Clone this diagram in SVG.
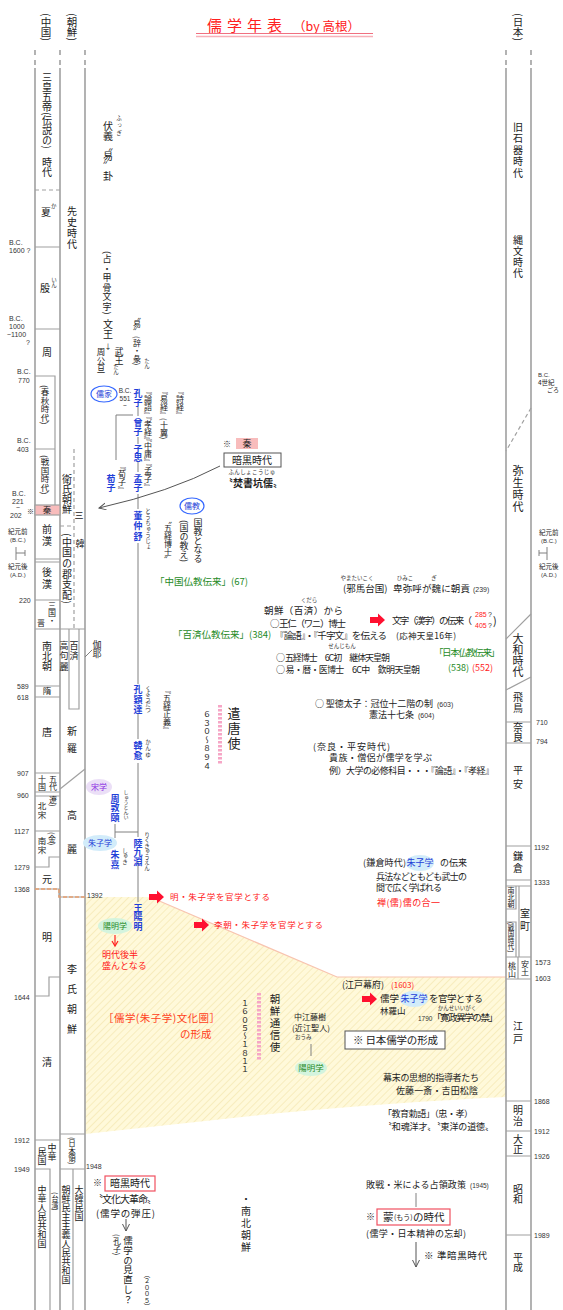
<svg xmlns="http://www.w3.org/2000/svg" width="563" height="1310" viewBox="0 0 563 1310">
<defs>
<style>
text{font-family:"Noto Sans CJK JP","Noto Sans CJK SC",sans-serif;font-size:9px;fill:#222}
.v{writing-mode:vertical-rl}
.d{font-family:"Liberation Sans",sans-serif;font-size:7px;fill:#333}
.r{font-size:5.5px;fill:#333}
.b{fill:#1f3fd8;font-weight:bold}
.red{fill:#ff2020}
.grn{fill:#1e8a1e}
.pur{fill:#8a2be2}
.c{text-anchor:middle}
.col{stroke:#a0a0a0;stroke-width:1.6;fill:none}
.ln{stroke:#a0a0a0;stroke-width:1.2;fill:none}
.sp{stroke:#808080;stroke-width:1;fill:none}
.dsh{stroke-dasharray:4 3}
.org{stroke:#e8a070;stroke-width:1.4;stroke-dasharray:4 2;fill:none}
.bar{stroke:#f6a6c6;stroke-width:4;stroke-dasharray:2.5 1.5;fill:none}
.box{fill:#fff;stroke:#555;stroke-width:1}
.rbox{fill:#fff;stroke:#f05060;stroke-width:1.2}
</style>
<pattern id="hatch" width="5" height="5" patternUnits="userSpaceOnUse" patternTransform="rotate(45)">
<rect width="5" height="5" fill="#fff9da"/>
<line x1="0" y1="0" x2="0" y2="5" stroke="#f5e8b4" stroke-width="1.5"/>
</pattern>
<marker id="ah" markerWidth="8" markerHeight="8" refX="7" refY="3.5" orient="auto" markerUnits="userSpaceOnUse">
<path d="M0,0 L7,3.5 L0,7" fill="none" stroke="#555" stroke-width="1"/>
</marker>
<path id="blk" d="M0,-3 H8 V-6.5 L15,0 L8,6.5 V3 H0 Z" fill="#ff1030"/>
</defs>

<rect width="563" height="1310" fill="#fff"/>

<g id="title">
<text x="207" y="31" style="font-size:15px;letter-spacing:5px" class="red">儒学年表</text>
<text x="293" y="31" style="font-size:12.5px" class="red">（by 高根）</text>
<line x1="196" y1="33.5" x2="373" y2="33.5" stroke="#f07080" stroke-width="1.2"/>
<line x1="196" y1="36.5" x2="373" y2="36.5" stroke="#f8b0b8" stroke-width="1.6"/>
</g>

<g id="bg-region">
<path d="M85,897 L150,897 L337,977 L506,977 L506,1097 Q400,1102 280,1113 L85,1134 Z" fill="url(#hatch)"/>
<path d="M150,897 L337,977 L506,977" fill="none" stroke="#f8c4b0" stroke-width="1.2"/>
</g>

<g id="headers">
<text class="v" x="46" y="13" style="font-size:10.5px">(中国)</text>
<text class="v" x="72" y="13" style="font-size:10.5px">(朝鮮)</text>
<text class="v" x="518" y="13" style="font-size:10.5px">(日本)</text>
</g>

<g id="columns">
<path class="col dsh" d="M35,50 V67 M60,50 V67 M85,50 V67 M506,50 V67 M531,50 V67" style="stroke-dasharray:5 5"/>
<path class="col" d="M35,68 V1310 M60,68 V1310 M85,68 V1310 M506,68 V1310 M531,68 V1310"/>
</g>

<g id="china">
<path class="ln dsh" d="M35,190 H60"/>
<path class="ln" d="M35,247 H60 M35,329 H60 M35,376 H55 V505 M35,449 H55"/>
<rect x="35" y="505" width="25" height="10" fill="#f8bcbc" stroke="#a0a0a0" stroke-width="1.2"/>
<path class="ln" d="M35,559 H60 M35,562 H60 M35,600 H60 M35,629 H85 M35,686 H60 M35,697 H60 M35,773 H60 M35,792 H60 M35,796 H60 M35,831 H60 M60,857 H49 V867 H35 M35,889 H59 V897 H85 M60,977 H49 V996 H35 M35,1140 H60 M35,1169 H50 V1310"/>
<path class="org" d="M35,889 H59 V897 H85"/>
<text class="v" x="47" y="72" style="font-size:10px">三皇五帝(伝説の)</text>
<text class="v" x="47" y="157" style="font-size:10px">時代</text>
<text class="c" x="46" y="216" style="font-size:10px">夏</text>
<text class="r" x="51" y="208">か</text>
<text class="c" x="45" y="292" style="font-size:10px">殷</text>
<text class="v r" x="54" y="277">いん</text>
<text class="c" x="47" y="356" style="font-size:10px">周</text>
<text class="v" x="45" y="385" style="font-size:8.5px">(春秋時代)</text>
<text class="v" x="45" y="455" style="font-size:8.5px">(戦国時代)</text>
<text class="c" x="47" y="513" style="font-size:8.5px">秦</text>
<text class="v" x="47" y="524" style="font-size:10px;letter-spacing:2px">前漢</text>
<text class="v" x="47" y="567" style="font-size:10px;letter-spacing:2px">後漢</text>
<text class="v" x="52" y="601" style="font-size:8px">三国・</text>
<text class="v" x="41" y="619" style="font-size:8px">晋</text>
<text class="v" x="47" y="641" style="font-size:10px">南北朝</text>
<text class="c" x="47" y="694" style="font-size:8.5px">隋</text>
<text class="c" x="47" y="736" style="font-size:10px">唐</text>
<text class="v" x="53" y="775" style="font-size:8px">五代</text>
<text class="v" x="42" y="775" style="font-size:8px">十国</text>
<text class="v" x="53" y="796" style="font-size:8px">遼)</text>
<text class="v" x="42" y="802" style="font-size:8.5px">北宋</text>
<text class="v" x="52" y="832" style="font-size:8px">(金)</text>
<text class="v" x="42" y="837" style="font-size:8.5px">南宋</text>
<text class="c" x="47" y="883" style="font-size:10px">元</text>
<text class="c" x="47" y="941" style="font-size:10px">明</text>
<text class="c" x="47" y="1066" style="font-size:10px">清</text>
<text class="v" x="52" y="1143" style="font-size:9px">中華</text>
<text class="v" x="42" y="1147" style="font-size:9px">民国</text>
<text class="v" x="42" y="1185" style="font-size:9px">中華人民共和国</text>
<text class="v" x="55" y="1192" style="font-size:7px">(台湾)</text>
</g>

<g id="korea">
<path class="ln dsh" d="M74,449 V629 M60,526 H74"/>
<path class="ln" d="M69,629 V709 H79 V629"/>
<path class="ln" d="M60,789 L85,769"/>
<path class="ln" d="M60,1134 H85 M60,1169 H85 M73,1169 V1310"/>
<path class="sp" d="M85,657 L92,650"/>
<text class="v" x="72" y="206" style="font-size:10px;letter-spacing:1px">先史時代</text>
<text class="v" x="67" y="474" style="font-size:10px">衛氏朝鮮</text>
<text class="c" x="79" y="519" style="font-size:9px">三</text>
<text class="c" x="80" y="547" style="font-size:9px">韓</text>
<text class="v" x="67" y="533" style="font-size:10px;letter-spacing:0.6px">(中国の郡支配)</text>
<text class="v" x="64" y="641" style="font-size:9px;letter-spacing:1.5px">高句麗</text>
<text class="v" x="74" y="641" style="font-size:9px;letter-spacing:1.5px">百済</text>
<text class="v" x="97" y="640" style="font-size:9px">伽耶</text>
<text class="v" x="72" y="726" style="font-size:10px;letter-spacing:7px">新羅</text>
<text class="v" x="72" y="810" style="font-size:10px;letter-spacing:24px">高麗</text>
<text class="v" x="72" y="964" style="font-size:10px;letter-spacing:10px">李氏朝鮮</text>
<text class="v" x="72" y="1137" style="font-size:7.5px">(日本領)</text>
<text class="v" x="66" y="1185" style="font-size:9px">朝鮮民主主義人民共和国</text>
<text class="v" x="79" y="1185" style="font-size:9px">大韓民国</text>
</g>

<g id="japan">
<path class="ln dsh" d="M531,408 L506,451"/>
<path class="ln" d="M531,614 L506,639 M531,677 L506,690 M506,722 H531 M506,743 H531 M506,846 H531 M506,880 H531 M506,886 H531 M506,909 H516 V886 M506,922 H516 V957 M519,886 V957 M506,957 H531 M506,979 H531 M518,957 V979 M506,1101 H531 M506,1131 H531 M506,1156 H531 M506,1235 H531"/>
<text class="v" x="518" y="122" style="font-size:10px;letter-spacing:1.5px">旧石器時代</text>
<text class="v" x="518" y="235" style="font-size:10px;letter-spacing:1px">縄文時代</text>
<text class="v" x="518" y="465" style="font-size:11px;letter-spacing:1.2px">弥生時代</text>
<text class="v" x="518" y="633" style="font-size:11px">大和時代</text>
<text class="v" x="518" y="692" style="font-size:10px;letter-spacing:1px">飛鳥</text>
<text class="v" x="518" y="722" style="font-size:10px">奈良</text>
<text class="v" x="518" y="765" style="font-size:10px;letter-spacing:4px">平安</text>
<text class="v" x="518" y="851" style="font-size:10px;letter-spacing:2px">鎌倉</text>
<text class="v" x="511" y="887" style="font-size:7px">南北朝</text>
<text class="v" x="511" y="922" style="font-size:6.5px">(戦国時代)</text>
<text class="v" x="525" y="908" style="font-size:10px;letter-spacing:3px">室町</text>
<text class="v" x="525" y="960" style="font-size:8px">安土</text>
<text class="v" x="512" y="962" style="font-size:8px">桃山</text>
<text class="v" x="518" y="1021" style="font-size:10px;letter-spacing:3px">江戸</text>
<text class="v" x="518" y="1105" style="font-size:10px;letter-spacing:1px">明治</text>
<text class="v" x="518" y="1134" style="font-size:10px">大正</text>
<text class="v" x="518" y="1184" style="font-size:10px">昭和</text>
<text class="v" x="518" y="1252" style="font-size:10px">平成</text>
</g>

<g id="dates-left">
<text class="d" x="9" y="245">B.C.</text><text class="d" x="9" y="253">1600 ?</text>
<text class="d" x="9" y="321">B.C.</text><text class="d" x="9" y="329">1000</text><text class="d" x="7" y="337">~1100</text><text class="d" x="26" y="345">?</text>
<text class="d" x="17" y="374">B.C.</text><text class="d" x="18" y="383">770</text>
<text class="d" x="17" y="443">B.C.</text><text class="d" x="17" y="452">403</text>
<text class="d" x="12" y="496">B.C.</text><text class="d" x="12" y="504">221</text><text class="d" x="16" y="510">~</text><text class="d" x="10" y="518">202</text>
<text x="27" y="514" style="font-size:7px">※</text>
<text x="8" y="534" style="font-size:6.5px">紀元前</text><text class="d" x="10" y="542" style="font-size:6px">(B.C.)</text>
<path class="sp" d="M16,547 V560 M16,553 H25 M25,550 V556"/>
<text x="8" y="569" style="font-size:6.5px">紀元後</text><text class="d" x="10" y="577" style="font-size:6px">(A.D.)</text>
<text class="d" x="19" y="603">220</text>
<text class="d" x="17" y="689">589</text>
<text class="d" x="17" y="700">618</text>
<text class="d" x="17" y="776">907</text>
<text class="d" x="17" y="798">960</text>
<text class="d" x="14" y="834">1127</text>
<text class="d" x="14" y="870">1279</text>
<text class="d" x="14" y="892">1368</text>
<text class="d" x="14" y="1000">1644</text>
<text class="d" x="14" y="1143">1912</text>
<text class="d" x="14" y="1172">1949</text>
<text class="d" x="87" y="898">1392</text>
<text class="d" x="86" y="1169">1948</text>
</g>

<g id="dates-right">
<text class="d" x="538" y="377" style="font-size:6px">B.C.</text><text x="538" y="385" style="font-size:6.5px">4世紀</text><text x="547" y="392" style="font-size:6px">ごろ</text>
<text x="539" y="535" style="font-size:6.5px">紀元前</text><text class="d" x="541" y="543" style="font-size:6px">(B.C.)</text>
<path class="sp" d="M547,547 V560 M547,553 H539 M539,550 V556"/>
<text x="539" y="569" style="font-size:6.5px">紀元後</text><text class="d" x="541" y="577" style="font-size:6px">(A.D.)</text>
<text class="d" x="536" y="725">710</text>
<text class="d" x="536" y="744">794</text>
<text class="d" x="534" y="850">1192</text>
<text class="d" x="534" y="885">1333</text>
<text class="d" x="535" y="965">1573</text>
<text class="d" x="535" y="981">1603</text>
<text class="d" x="534" y="1104">1868</text>
<text class="d" x="534" y="1134">1912</text>
<text class="d" x="534" y="1159">1926</text>
<text class="d" x="534" y="1238">1989</text>
</g>

<g id="connectors">
<path class="sp" d="M138,407 V416 M138,437 V444 M138,462 V472 M138,494 V509 M138,543 V684 M138,714 V739 M138,763 V837 M138,861 V902"/>
<path class="sp" d="M116,415 H133 M116,415 V460"/>
<path class="sp" d="M115,824 V838 M115,832 H138"/>
<path d="M220,466 Q170,492 99,508" fill="none" stroke="#555" stroke-width="1" marker-end="url(#ah)"/>
<path class="sp" d="M311,1044 V1056"/>
<path class="sp" d="M416,1193 V1207"/>
<path d="M416,1242 V1267" fill="none" stroke="#555" stroke-width="1" marker-end="url(#ah)"/>
<path d="M126,1219 V1231" fill="none" stroke="#555" stroke-width="1" marker-end="url(#ah)"/>
<path d="M115,935 V945" fill="none" stroke="#ff2020" stroke-width="1.2"/>
<path d="M112,941 L115,946 L118,941" fill="none" stroke="#ff2020" stroke-width="1.2"/>
<use href="#blk" x="149" y="897"/>
<use href="#blk" x="194" y="925"/>
<use href="#blk" x="370" y="620"/>
<use href="#blk" x="362" y="999"/>
</g>

<g id="ancient">
<text class="v" x="108" y="121" style="font-size:10px">伏義〝易〟卦</text>
<text class="v r" x="119" y="115" style="letter-spacing:2px">ふっぎ</text>
<text class="v" x="107" y="251" style="font-size:9px;letter-spacing:0.5px">(占・甲骨文字)</text>
<text class="v" x="108" y="319" style="font-size:10px">文王</text>
<text class="c" x="108" y="349" style="font-size:7px">↓</text>
<text class="v" x="119" y="347" style="font-size:9px">武王</text>
<text class="v" x="101" y="348" style="font-size:8.5px">周公旦</text>
<text class="v r" x="116" y="364">たん</text>
<text class="v" x="137" y="312" style="font-size:8px">〝易〟(辞・彖)</text>
<text class="v r" x="147" y="358">たん</text>
</g>

<g id="confucians">
<ellipse cx="104" cy="394" rx="13" ry="8" fill="#fff" stroke="#3366ff" stroke-width="1.2"/>
<text class="c" x="104" y="397" style="font-size:8px;fill:#1f3fd8">儒家</text>
<text class="d c" x="125" y="393" style="font-size:6.5px">B.C.</text>
<text class="d c" x="125" y="401" style="font-size:6.5px">551</text>
<text class="d c" x="125" y="408" style="font-size:6.5px">~</text>
<text class="v b" x="138" y="389">孔子</text>
<text class="v b" x="138" y="418">曾子</text>
<text class="v b" x="138" y="444">子思</text>
<text class="v b" x="138" y="474">孟子</text>
<text class="v b" x="138" y="511" style="letter-spacing:1.5px">董仲舒</text>
<text class="v r" x="148" y="508" style="letter-spacing:0.6px">とうちゅうじょ</text>
<text class="v" x="148" y="387" style="font-size:8px">『論語』</text>
<text class="v" x="148" y="412" style="font-size:8px">『孝経』</text>
<text class="v" x="148" y="434" style="font-size:8px">『中庸』</text>
<text class="v" x="148" y="459" style="font-size:8px">『孟子』</text>
<text class="v" x="164" y="387" style="font-size:8px">『易経』</text>
<text class="v" x="164" y="418" style="font-size:8px">(十翼)</text>
<text class="v" x="180" y="387" style="font-size:8px">『詩経』</text>
<text class="v" x="122" y="462" style="font-size:8px">『荀子』</text>
<text class="v b" x="111" y="474">荀子</text>
<ellipse cx="192" cy="506" rx="12" ry="8" fill="#fff" stroke="#3366ff" stroke-width="1.2"/>
<text class="c" x="192" y="509" style="font-size:8px;fill:#1f3fd8">儒教</text>
<text class="v" x="198" y="518">国教となる</text>
<text class="v" x="184" y="520">(国の教え)</text>
<text class="v" x="168" y="516" style="font-size:8px">〝五経博士〟</text>
<text class="grn" x="155" y="585" style="font-size:9.5px">「中国仏教伝来」(67)</text>
<text class="grn" x="173" y="638" style="font-size:9.5px">「百済仏教伝来」(384)</text>
<text class="v b" x="138" y="685" style="letter-spacing:1px">孔穎達</text>
<text class="v r" x="148" y="685">くようだつ</text>
<text class="v" x="167" y="686" style="font-size:8px">『五経正義』</text>
<text class="v b" x="138" y="741" style="letter-spacing:1px">韓愈</text>
<text class="v r" x="148" y="739" style="letter-spacing:1px">かんゆ</text>
<ellipse cx="99" cy="787" rx="13" ry="8" fill="#ebdff7"/>
<text class="c pur" x="99" y="790" style="font-size:8px">宋学</text>
<text class="v b" x="115" y="794" style="letter-spacing:0.5px">周敦頤</text>
<text class="v r" x="126" y="790" style="font-size:5px">しゅうとんい</text>
<ellipse cx="100" cy="843" rx="17" ry="8" fill="#d2ecfa"/>
<text class="c" x="100" y="846" style="font-size:8px;fill:#1f3fd8">朱子学</text>
<text class="v b" x="138" y="839">陸九淵</text>
<text class="v r" x="147" y="832">りくきゅうえん</text>
<text class="v b" x="115" y="850" style="letter-spacing:1px">朱熹</text>
<text class="v r" x="125" y="848">しゅき</text>
<text class="v b" x="138" y="903" style="letter-spacing:0.5px">王陽明</text>
<ellipse cx="115" cy="926" rx="17" ry="8" fill="#d4f4de"/>
<text class="c grn" x="115" y="929" style="font-size:8px">陽明学</text>
<text class="red" x="102" y="958">明代後半</text>
<text class="red" x="102" y="969">盛んとなる</text>
<text class="red" x="170" y="900" style="font-size:8.5px" textLength="100">明・朱子学を官学とする</text>
<text class="red" x="214" y="928" style="font-size:8.5px" textLength="109">李朝・朱子学を官学とする</text>
</g>

<g id="qin">
<text x="223" y="447" style="font-size:8px">※</text>
<rect x="236" y="438" width="22" height="11" fill="#f8bcbc"/>
<text class="c" x="247" y="447" style="font-size:9px">秦</text>
<rect class="box" x="224" y="453" width="57" height="14"/>
<text class="c" x="252" y="464" style="font-size:10px">暗黒時代</text>
<text class="r c" x="252" y="474" style="letter-spacing:0.4px">ふんしょこうじゅ</text>
<text class="c" x="253" y="487" style="font-size:10px;font-weight:bold">〝焚書坑儒〟</text>
</g>

<g id="japan-events">
<text class="r c" x="357" y="580">やまたいこく</text>
<text class="r c" x="405" y="580">ひみこ</text>
<text class="r c" x="434" y="580">ぎ</text>
<text x="343" y="592" style="font-size:9.5px">(邪馬台国)</text>
<text x="393" y="592" style="font-size:9.5px" textLength="77">卑弥呼が魏に朝貢</text>
<text class="d" x="473" y="592">(239)</text>
<text class="r c" x="309" y="602">くだら</text>
<text x="264" y="614" style="font-size:9.5px" textLength="79">朝鮮（百済）から</text>
<text x="270" y="627" style="font-size:9.5px" textLength="76">○ 王仁（ワニ）博士</text>
<text x="275" y="639" style="font-size:9.5px" textLength="112">『論語』・『千字文』を伝える</text>
<text x="396" y="639" style="font-size:8.5px" textLength="60">(応神天皇16年)</text>
<text class="r c" x="342" y="648">せんじもん</text>
<text x="392" y="624" style="font-size:9.5px" textLength="80">文字（漢字）の伝来（</text>
<text class="d red" x="475" y="617">285</text><text class="d" x="488" y="617">?</text>
<text class="d red" x="475" y="628">405</text><text class="d" x="488" y="628">?</text>
<text x="493" y="625" style="font-size:11px">)</text>
<text x="276" y="661" style="font-size:9px" textLength="114">○ 五経博士　6C初　継体天皇朝</text>
<text x="276" y="673" style="font-size:9px" textLength="144">○ 易・暦・医博士　6C中　欽明天皇朝</text>
<text class="grn" x="434" y="656" style="font-size:9.5px" textLength="66">「日本仏教伝来」</text>
<text class="grn" x="448" y="671" style="font-size:9px">(538)</text>
<text class="red" x="472" y="671" style="font-size:9px">(552)</text>
<text x="315" y="707" style="font-size:9px" textLength="118">○ 聖徳太子：冠位十二階の制</text>
<text class="d" x="437" y="707">(603)</text>
<text x="369" y="718" style="font-size:9px">憲法十七条</text>
<text class="d" x="418" y="718">(604)</text>
<text x="313" y="750" style="font-size:9px" textLength="77">(奈良・平安時代)</text>
<text x="329" y="761" style="font-size:9px" textLength="103">貴族・僧侶が儒学を学ぶ</text>
<text x="329" y="774" style="font-size:9px" textLength="165">例）大学の必修科目・・・『論語』・『孝経』</text>
<text x="363" y="866" style="font-size:9px" textLength="43">(鎌倉時代)</text>
<ellipse cx="420" cy="863" rx="14" ry="8" fill="#d2ecfa"/>
<text class="c" x="420" y="866" style="font-size:9px;fill:#1f3fd8">朱子学</text>
<text x="440" y="866" style="font-size:9px">の伝来</text>
<text x="376" y="880" style="font-size:9px" textLength="91">兵法などともども武士の</text>
<text x="376" y="891" style="font-size:9px" textLength="66">間で広く学ばれる</text>
<text class="red" x="377" y="906" style="font-size:9px" textLength="63">禅(儒)儒の合一</text>
<text x="342" y="988" style="font-size:9px">(江戸幕府)</text>
<text class="red" x="391" y="988" style="font-size:8px">(1603)</text>
<text x="380" y="1002" style="font-size:9.5px">儒学</text>
<ellipse cx="414" cy="999" rx="14" ry="8" fill="#d2ecfa"/>
<text class="c" x="414" y="1002" style="font-size:9px;fill:#1f3fd8">朱子学</text>
<text x="429" y="1002" style="font-size:9.5px" textLength="54">を官学とする</text>
<text x="380" y="1014" style="font-size:8.5px">林羅山</text>
<text class="r c" x="457" y="1010">かんせいいがく</text>
<text class="d" x="418" y="1021" style="font-size:6.5px">1790</text>
<text x="432" y="1021" style="font-size:9.5px" textLength="66">「寛政異学の禁」</text>
<text x="294" y="1020" style="font-size:8px" textLength="32">中江藤樹</text>
<text x="292" y="1031" style="font-size:8px" textLength="38">(近江聖人)</text>
<text class="r" x="295" y="1039">おうみ</text>
<ellipse cx="311" cy="1068" rx="16" ry="8" fill="#d4f4de"/>
<text class="c grn" x="311" y="1071" style="font-size:8.5px">陽明学</text>
<rect class="box" x="345" y="1031" width="100" height="18"/>
<text x="353" y="1044" style="font-size:10.5px" textLength="85">※ 日本儒学の形成</text>
<text x="383" y="1081" style="font-size:9px" textLength="96">幕末の思想的指導者たち</text>
<text x="396" y="1094" style="font-size:9px" textLength="82">佐藤一斎・吉田松陰</text>
<text x="383" y="1117" style="font-size:9px" textLength="90">「教育勅語」（忠・孝）</text>
<text x="383" y="1130" style="font-size:9px" textLength="111">〝和魂洋才〟〝東洋の道徳〟</text>
<text x="366" y="1188" style="font-size:9px" textLength="100">敗戦・米による占領政策</text>
<text class="d" x="470" y="1188" style="font-size:6.5px">(1945)</text>
<text x="366" y="1220" style="font-size:9px">※</text>
<rect class="rbox" x="377" y="1209" width="73" height="16"/>
<text x="383" y="1221" style="font-size:10.5px">蒙</text>
<text x="394" y="1220" style="font-size:7px">(もう)</text>
<text x="413" y="1221" style="font-size:10.5px">の時代</text>
<text x="366" y="1237" style="font-size:9px" textLength="100">(儒学・日本精神の忘却)</text>
<text x="424" y="1259" style="font-size:9.5px" textLength="63">※ 準暗黒時代</text>
</g>

<g id="korea-events">
<text class="v" x="234" y="707" style="font-size:13px;letter-spacing:2px">遣唐使</text>
<path class="bar" d="M220,705 V764"/>
<text class="v" x="207" y="710" style="font-size:8px;letter-spacing:0.6px">６３０〜８９４</text>
<text class="v" x="275" y="994" style="font-size:10.5px;letter-spacing:1.5px">朝鮮通信使</text>
<path class="bar" d="M259,993 V1061"/>
<text class="v" x="245" y="999" style="font-size:8px;letter-spacing:0.3px">１６０５〜１８１１</text>
<text x="103" y="1022" style="font-size:10.5px;fill:#ff4020" textLength="117">［儒学(朱子学)文化圏］</text>
<text x="180" y="1038" style="font-size:10.5px;fill:#ff4020">の形成</text>
</g>

<g id="modern-china">
<text x="93" y="1186" style="font-size:9px">※</text>
<rect class="rbox" x="105" y="1176" width="50" height="15"/>
<text class="c" x="130" y="1187" style="font-size:10px">暗黒時代</text>
<text x="93" y="1203" style="font-size:10px" textLength="64">〝文化大革命〟</text>
<text x="96" y="1217" style="font-size:9.5px" textLength="59">(儒学の弾圧)</text>
<text class="v" x="117" y="1234" style="font-size:8px">(孔子)</text>
<text class="v" x="128" y="1236" style="font-size:9.5px;letter-spacing:0.2px">儒学の見直し？</text>
<text class="v" x="147" y="1271" style="font-size:6.5px">（２００５）</text>
<text class="v" x="246" y="1194" style="font-size:10px;letter-spacing:2px">・南北朝鮮</text>
</g>
</svg>
